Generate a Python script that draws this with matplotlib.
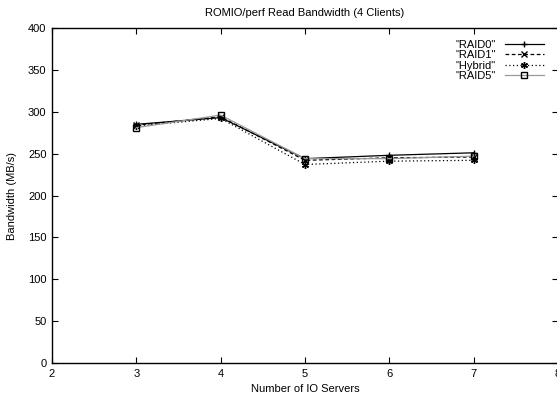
import numpy as np
import matplotlib.pyplot as plt

plt.rcParams['font.family'] = ['Liberation Sans', 'DejaVu Sans']

servers = [3, 4, 5, 6, 7]
raid0 = [285, 293, 244, 248, 251]
raid1 = [284, 294, 242, 245, 246]
hybrid = [283, 292, 237, 241, 242]
raid5 = [281, 296, 244, 244, 247]

fig = plt.figure(figsize=(5.57, 4.0), dpi=100)
ax = fig.add_axes([52/557, 37/400, 506/557, 335/400])

ax.plot(servers, raid0, color='black', linestyle='-', linewidth=0.9, marker='+', markersize=5, label='"RAID0"')
ax.plot(servers, raid1, color='black', linestyle=(0, (3, 2)), linewidth=0.9, marker='x', markersize=4, label='"RAID1"')
ax.plot(servers, hybrid, color='black', linestyle=(0, (1, 2)), linewidth=0.9, marker=(6, 2, 0), markersize=5, label='"Hybrid"')
ax.plot(servers, raid5, color='#999999', linestyle='-', linewidth=0.9, marker='s', markersize=4,
        markerfacecolor='none', markeredgecolor='black', label='"RAID5"')

ax.set_xlim(2, 8)
ax.set_ylim(0, 400)
ax.set_xticks([2, 3, 4, 5, 6, 7, 8])
ax.set_yticks(np.arange(0, 401, 50))
ax.tick_params(direction='in', top=True, right=True, labelsize=8, length=4, width=0.8, pad=4)
for s in ax.spines.values():
    s.set_linewidth(1.0)

ax.set_xlabel('Number of IO Servers', fontsize=8, labelpad=4)
ax.set_ylabel('Bandwidth (MB/s)', fontsize=8, labelpad=8)
ax.set_title('ROMIO/perf Read Bandwidth (4 Clients)', fontsize=8, pad=9)

ax.legend(loc='upper right', bbox_to_anchor=(0.985, 0.985), frameon=False, markerfirst=False,
          fontsize=8, handlelength=3.5, handletextpad=0.8, labelspacing=0.05, borderaxespad=0.2)

plt.savefig('out.png', dpi=100)
